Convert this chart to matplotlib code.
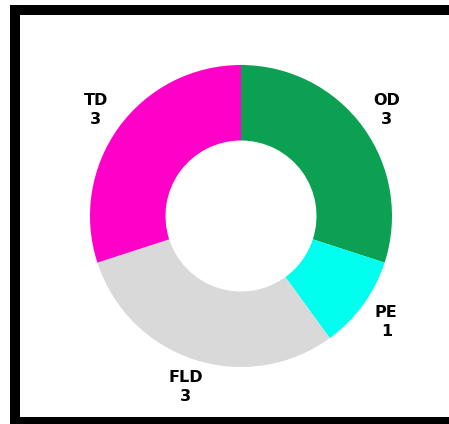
import matplotlib
matplotlib.use("Agg")
import matplotlib.pyplot as plt
from matplotlib.patches import Rectangle

categories = ["OD", "PE", "FLD", "TD"]
values = [3, 1, 3, 3]
colors = ["#0ca152", "#00ffee", "#d9d9d9", "#ff00c8"]

W, H = 449, 424
fig = plt.figure(figsize=(W / 100, H / 100), dpi=100)
fig.patch.set_facecolor("white")

# frame (left, top, bottom black bars)
fig.patches.append(Rectangle((10 / W, 0), 10 / W, 1 - 5 / H, transform=fig.transFigure,
                             facecolor="black", edgecolor="none", zorder=0))
fig.patches.append(Rectangle((10 / W, 1 - 15 / H), 1, 10 / H, transform=fig.transFigure,
                             facecolor="black", edgecolor="none", zorder=0))
fig.patches.append(Rectangle((10 / W, 0), 1, 7 / H, transform=fig.transFigure,
                             facecolor="black", edgecolor="none", zorder=0))

cx, cy, R = 241, 216, 151
ax = fig.add_axes([(cx - R) / W, (H - cy - R) / H, 2 * R / W, 2 * R / H])
ax.set_xlim(-1, 1)
ax.set_ylim(-1, 1)
ax.axis("off")

wedges, texts = ax.pie(values, colors=colors, startangle=90, counterclock=False,
                       radius=1.0, wedgeprops=dict(width=0.5, edgecolor="none"),
                       labels=[f"{c}\n{v}" for c, v in zip(categories, values)],
                       labeldistance=1.19,
                       textprops=dict(fontsize=11.5, fontweight="heavy", color="#000000",
                                      ha="center", va="center", linespacing=1.35))
for t in texts:
    t.set_horizontalalignment("center")
    t.set_verticalalignment("center")
ax.set_xlim(-1, 1)
ax.set_ylim(-1, 1)

fig.savefig("out.png", dpi=100)
